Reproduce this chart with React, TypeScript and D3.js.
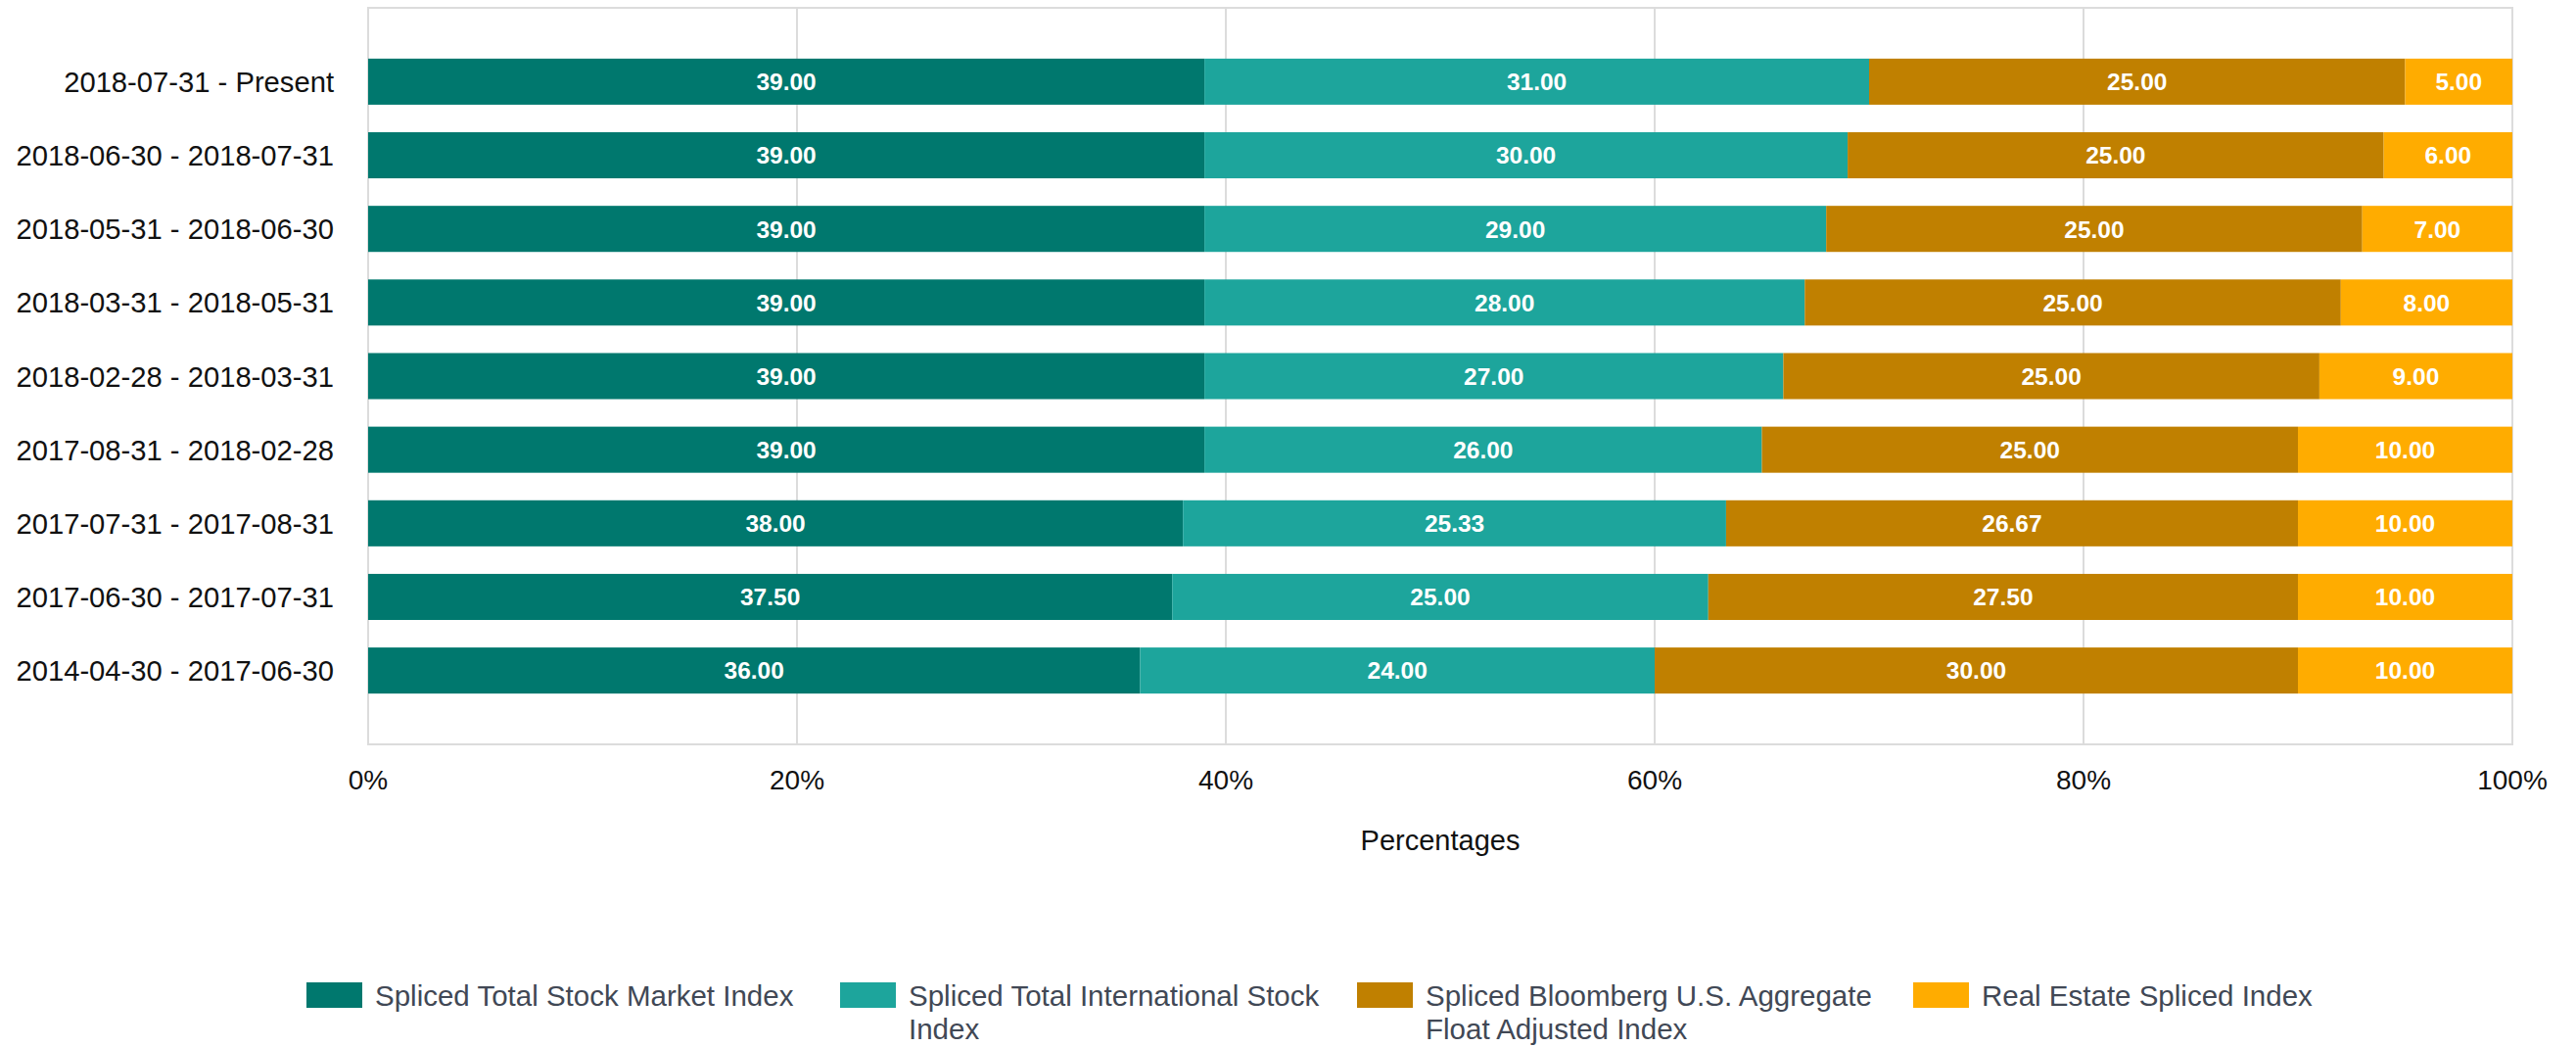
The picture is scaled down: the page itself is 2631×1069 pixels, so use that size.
import { useEffect } from "react";
import * as d3 from "d3";

const W = 2631;
const H = 1069;
const ML = 376;
const MR = 2566;
const MT = 8;
const MB = 760;

const PERIODS = [
  "2018-07-31 - Present",
  "2018-06-30 - 2018-07-31",
  "2018-05-31 - 2018-06-30",
  "2018-03-31 - 2018-05-31",
  "2018-02-28 - 2018-03-31",
  "2017-08-31 - 2018-02-28",
  "2017-07-31 - 2017-08-31",
  "2017-06-30 - 2017-07-31",
  "2014-04-30 - 2017-06-30",
];

const TOTAL_STOCK = [39, 39, 39, 39, 39, 39, 38, 37.5, 36];
const INTL_STOCK = [31, 30, 29, 28, 27, 26, 25.33, 25, 24];
const BLOOMBERG = [25, 25, 25, 25, 25, 25, 26.67, 27.5, 30];
const REAL_ESTATE = [5, 6, 7, 8, 9, 10, 10, 10, 10];

const SERIES_KEYS = ["stock", "intl", "bond", "reit"];
const SERIES_COLORS = ["#00786e", "#1da59c", "#c08000", "#ffac00"];
const LEGEND_LINES = [
  ["Spliced Total Stock Market Index"],
  ["Spliced Total International Stock", "Index"],
  ["Spliced Bloomberg U.S. Aggregate", "Float Adjusted Index"],
  ["Real Estate Spliced Index"],
];
const LEGEND_X = [313, 858, 1386, 1954];
const X_TICKS = [0, 20, 40, 60, 80, 100];

const FONT = "'Liberation Sans', Arial, sans-serif";

export default function App() {
  useEffect(() => {
    document.body.style.margin = "0";
    document.body.style.overflow = "hidden";
  }, []);

  const rows = PERIODS.map((p, i) => ({
    period: p,
    stock: TOTAL_STOCK[i],
    intl: INTL_STOCK[i],
    bond: BLOOMBERG[i],
    reit: REAL_ESTATE[i],
  }));

  const stacked = d3.stack<(typeof rows)[0]>().keys(SERIES_KEYS)(rows);

  const x = d3.scaleLinear().domain([0, 100]).range([ML, MR]);
  const y = d3
    .scaleBand()
    .domain(PERIODS)
    .range([MT, MB])
    .paddingInner(0.374)
    .paddingOuter(0.69);

  return (
    <svg width={W} height={H} style={{ display: "block", fontFamily: FONT }}>
      <rect width={W} height={H} fill="#fff" />

      {/* grid */}
      <g stroke="#dcdcdc" strokeWidth={2}>
        {X_TICKS.slice(1, -1).map((t) => (
          <line key={t} x1={x(t)} x2={x(t)} y1={MT} y2={MB} />
        ))}
      </g>
      <rect
        x={ML}
        y={MT}
        width={MR - ML}
        height={MB - MT}
        fill="none"
        stroke="#dcdcdc"
        strokeWidth={2}
      />

      {/* bars */}
      {stacked.map((s, si) => (
        <g key={s.key} fill={SERIES_COLORS[si]}>
          {s.map((d) => (
            <rect
              key={d.data.period}
              x={x(d[0])}
              y={y(d.data.period)}
              width={x(d[1]) - x(d[0])}
              height={y.bandwidth()}
            />
          ))}
        </g>
      ))}

      {/* value labels */}
      <g fill="#fff" fontWeight="bold" fontSize={24.5} textAnchor="middle">
        {stacked.map((s) =>
          s.map((d) => (
            <text
              key={s.key + d.data.period}
              x={(x(d[0]) + x(d[1])) / 2}
              y={(y(d.data.period) ?? 0) + y.bandwidth() / 2}
              dy="0.36em"
            >
              {(d[1] - d[0]).toFixed(2)}
            </text>
          )),
        )}
      </g>

      {/* category labels */}
      <g fill="#111" fontSize={29.2} textAnchor="end">
        {PERIODS.map((p) => (
          <text
            key={p}
            x={ML - 35}
            y={(y(p) ?? 0) + y.bandwidth() / 2}
            dy="0.36em"
          >
            {p}
          </text>
        ))}
      </g>

      {/* x ticks */}
      <g fill="#111" fontSize={28} textAnchor="middle">
        {X_TICKS.map((t) => (
          <text key={t} x={x(t)} y={806}>
            {t}%
          </text>
        ))}
      </g>
      <text
        x={(ML + MR) / 2}
        y={868}
        fontSize={29}
        textAnchor="middle"
        fill="#111"
      >
        Percentages
      </text>

      {/* legend */}
      {LEGEND_LINES.map((lines, i) => (
        <g key={i} transform={`translate(${LEGEND_X[i]},0)`}>
          <rect y={1003} width={57} height={26} fill={SERIES_COLORS[i]} />
          <text x={70} y={1027} fontSize={29.5} fill="#414855">
            {lines.map((l, j) => (
              <tspan key={j} x={70} dy={j === 0 ? 0 : 34}>
                {l}
              </tspan>
            ))}
          </text>
        </g>
      ))}
    </svg>
  );
}
